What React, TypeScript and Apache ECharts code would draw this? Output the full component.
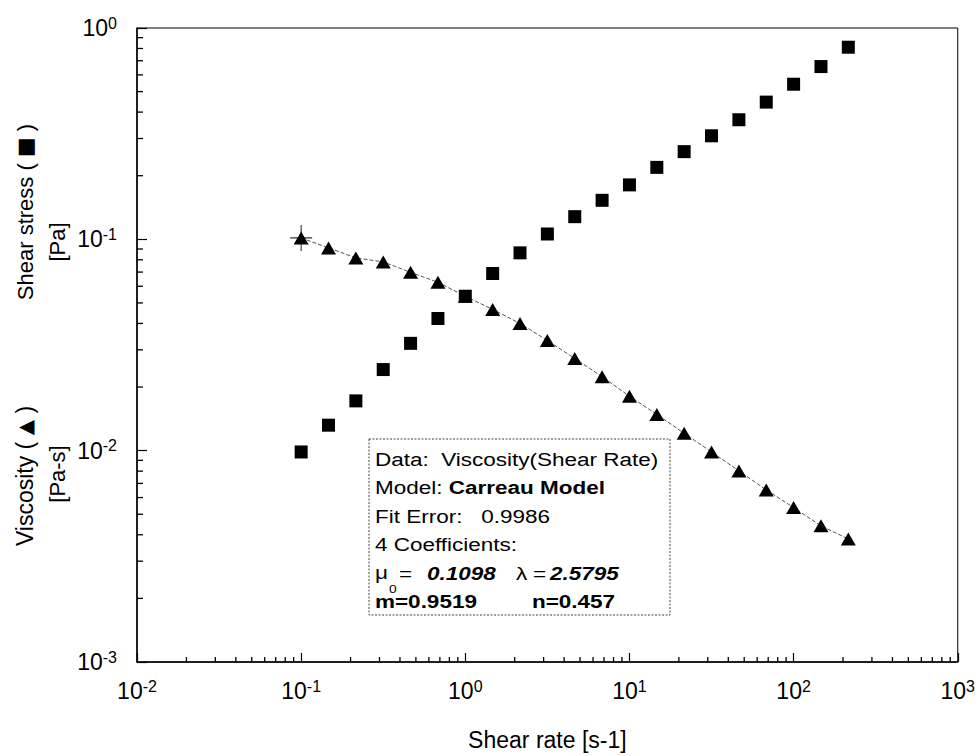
import React, { useEffect, useRef } from 'react';
import * as echarts from 'echarts';

// Shear rate (x) values, 6 points per decade
const shearRate = [0.1, 0.1468, 0.2154, 0.3162, 0.4642, 0.6813, 1, 1.468, 2.154, 3.162, 4.642, 6.813, 10, 14.68, 21.54, 31.62, 46.42, 68.13, 100, 146.8, 215.4];
// Shear stress [Pa] (squares)
const shearStress = [0.00986, 0.0132, 0.0172, 0.0242, 0.0322, 0.0422, 0.0538, 0.0689, 0.0863, 0.106, 0.128, 0.153, 0.181, 0.219, 0.260, 0.309, 0.368, 0.446, 0.542, 0.657, 0.811];
// Viscosity [Pa-s] (triangles)
const viscosity = [0.1015, 0.0911, 0.0817, 0.0782, 0.0698, 0.0626, 0.0538, 0.0466, 0.0400, 0.0332, 0.0273, 0.0224, 0.0181, 0.01485, 0.01208, 0.00986, 0.00802, 0.00652, 0.00538, 0.00441, 0.00382];

const minorMults = [2, 3, 4, 5, 6, 7, 8, 9];
const xDecades = [0.01, 0.1, 1, 10, 100];
const yDecades = [0.001, 0.01, 0.1];

const FONT = '"Liberation Sans", Arial, Helvetica, sans-serif';

export default function App() {
  const ref = useRef<HTMLDivElement>(null);
  useEffect(() => {
    const chart = echarts.init(ref.current!, null, { renderer: 'svg' });
    const xMinor = xDecades.flatMap((d) => minorMults.map((m) => [d * m, 0.001]));
    const yMinor = yDecades.flatMap((d) => minorMults.map((m) => [0.01, d * m]));
    const stressData = shearRate.map((x, i) => [x, shearStress[i]]);
    const viscData = shearRate.map((x, i) => [x, viscosity[i]]);

    const labelRich = {
      b: { fontSize: 23, lineHeight: 26, fontFamily: FONT, color: '#000' },
      s: { fontSize: 16, verticalAlign: 'top', fontFamily: FONT, color: '#000' },
    };
    const fmt = (v: number) => `{b|10}{s|${Math.round(Math.log10(v))}}`;

    const txt = (x: number, y: number, text: string, extra: any = {}, rich?: any) => ({
      type: 'text',
      x,
      y,
      scaleX: extra.scaleX ?? 1.25,
      z: 100,
      style: {
        text,
        fill: '#000',
        fontSize: extra.fontSize ?? 18,
        fontFamily: FONT,
        fontWeight: extra.fontWeight ?? 'normal',
        fontStyle: extra.fontStyle ?? 'normal',
        textAlign: 'left',
        align: 'left',
        textVerticalAlign: 'middle',
        verticalAlign: 'middle',
        rich,
      },
    });
    const rotTxt = (x: number, y: number, text: string, size: number, rich?: any) => ({
      type: 'text',
      x,
      y,
      rotation: Math.PI / 2,
      z: 100,
      style: {
        text,
        fill: '#000',
        fontSize: size,
        fontFamily: FONT,
        textAlign: 'center',
        align: 'center',
        textVerticalAlign: 'middle',
        verticalAlign: 'middle',
        rich,
      },
    });
    const symRich = (size: number) => ({
      t: { fontSize: size, fontFamily: FONT, fill: '#000' },
      m: { fontSize: 21, fontFamily: '"DejaVu Sans", sans-serif', fill: '#000' },
      g: { fontSize: 20, fontFamily: '"DejaVu Sans", sans-serif', fill: '#000' },
    });

    const option: any = {
      animation: false,
      backgroundColor: '#fff',
      textStyle: { fontFamily: FONT },
      grid: { left: 137, top: 28, right: 20, bottom: 93, show: true, borderColor: '#000', borderWidth: 1 },
      xAxis: {
        type: 'log',
        logBase: 10,
        min: 0.01,
        max: 1000,
        splitNumber: 5,
        name: 'Shear rate [s-1]',
        nameLocation: 'middle',
        nameGap: 66,
        nameTextStyle: { fontSize: 23, color: '#000', fontFamily: FONT },
        axisLine: { show: true, lineStyle: { color: '#000', width: 1.5 } },
        axisTick: { show: true, inside: true, length: 9, lineStyle: { color: '#000', width: 1.2 } },
        axisLabel: { margin: 16, formatter: fmt, rich: labelRich },
        splitLine: { show: false },
      },
      yAxis: {
        type: 'log',
        logBase: 10,
        min: 0.001,
        max: 1,
        splitNumber: 3,
        axisLine: { show: true, lineStyle: { color: '#000', width: 1.5 } },
        axisTick: { show: true, inside: true, length: 10, lineStyle: { color: '#000', width: 1.2 } },
        axisLabel: { margin: 20, formatter: fmt, rich: labelRich },
        splitLine: { show: false },
      },
      series: [
        {
          type: 'scatter',
          data: xMinor,
          symbol: 'rect',
          symbolSize: [1.3, 5],
          symbolOffset: [0, -2.5],
          itemStyle: { color: '#000', opacity: 1 },
          silent: true,
          clip: false,
          z: 3,
        },
        {
          type: 'scatter',
          data: yMinor,
          symbol: 'rect',
          symbolSize: [6, 1.3],
          symbolOffset: [3, 0],
          itemStyle: { color: '#000', opacity: 1 },
          silent: true,
          clip: false,
          z: 3,
        },
        {
          type: 'line',
          data: viscData,
          showSymbol: false,
          symbol: 'none',
          lineStyle: { type: [4, 2], width: 1, color: '#555' },
          silent: true,
          z: 2,
        },
        {
          type: 'scatter',
          data: [viscData[0]],
          symbol: 'path://M11.4,0h1.2v24h-1.2z M0,11.4h24v1.2h-24z',
          symbolSize: [22, 26],
          itemStyle: { color: '#333', opacity: 1 },
          silent: true,
          z: 4,
        },
        {
          type: 'scatter',
          data: viscData,
          symbol: 'triangle',
          symbolSize: [15, 13],
          itemStyle: { color: '#000', opacity: 1 },
          z: 5,
        },
        {
          type: 'scatter',
          data: stressData,
          symbol: 'rect',
          symbolSize: 13,
          itemStyle: { color: '#000', opacity: 1 },
          z: 5,
        },
      ],
      graphic: [
        rotTxt(25, 212, '{t|Shear stress ( }{m|■}{t| )}', 22, symRich(22)),
        rotTxt(57, 242, '[Pa]', 22),
        rotTxt(25, 476, '{t|Viscosity ( }{g|▲}{t| )}', 23, symRich(23)),
        rotTxt(57, 474, '[Pa-s]', 22),
        {
          type: 'rect',
          z: 90,
          shape: { x: 369, y: 439, width: 301, height: 176 },
          style: { fill: '#fff', stroke: '#444', lineWidth: 1, lineDash: [2, 1.5] },
        },
        txt(375, 460, 'Data:  Viscosity(Shear Rate)'),
        txt(375, 488, '{n|Model: }{k|Carreau Model}', {}, {
          n: { fontSize: 18, fontFamily: FONT, fill: '#000' },
          k: { fontSize: 18, fontFamily: FONT, fontWeight: 'bold', fill: '#000' },
        }),
        txt(375, 517, 'Fit Error:   0.9986'),
        txt(375, 545, '4 Coefficients:'),
        txt(375, 573, 'μ'),
        txt(389, 589, '0', { fontSize: 11 }),
        txt(399, 574, '='),
        txt(427, 574, '0.1098', { fontWeight: 'bold', fontStyle: 'italic' }),
        txt(516, 574, 'λ'),
        txt(533, 574, '='),
        txt(550, 574, '2.5795', { fontWeight: 'bold', fontStyle: 'italic' }),
        txt(375, 602, 'm=0.9519', { fontWeight: 'bold' }),
        txt(532, 602, 'n=0.457', { fontWeight: 'bold' }),
      ],
    };
    chart.setOption(option);
    return () => chart.dispose();
  }, []);
  return (
    <div
      ref={ref}
      style={{ position: 'absolute', left: 0, top: 0, width: 978, height: 756, background: '#fff' }}
    />
  );
}
